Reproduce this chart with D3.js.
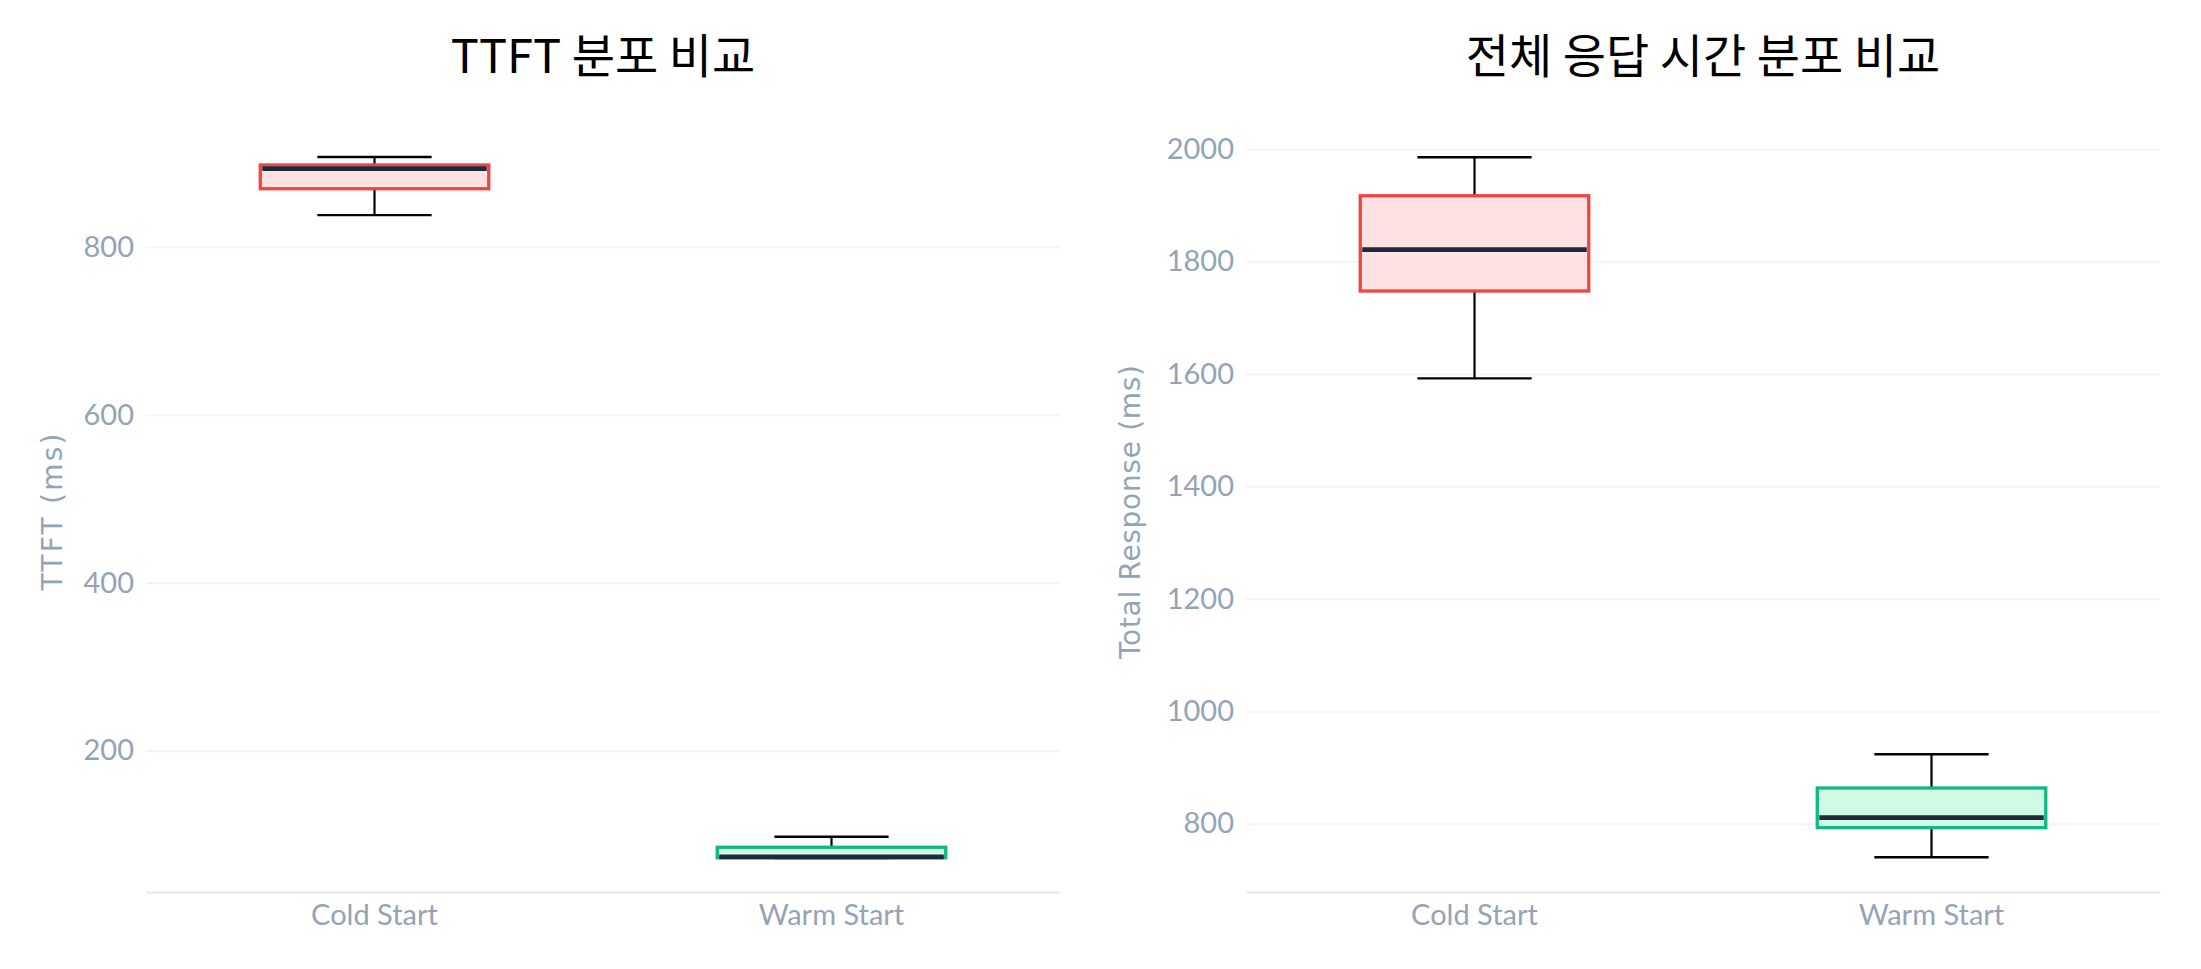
<!DOCTYPE html>
<html>
<head>
<meta charset="utf-8">
<script src="https://cdn.jsdelivr.net/npm/d3@7"></script>
<style>
  body { margin: 0; background: white; }
</style>
</head>
<body>
<div id="chart"></div>
<script>
// Chart data

var categories = ["Cold Start", "Warm Start"]

// [min, q1, median, q3, max]
var ttft_stats = [
    [838, 869.4, 893.3, 897.7, 907.2],
    [72, 72.5, 73.5, 85, 97.5]
]
var total_stats = [
    [1592, 1747.4, 1821, 1916.8, 1985.2],
    [740.2, 792.9, 810.7, 863.5, 923.4]
]

var ttft_ticks = [200, 400, 600, 800]
var total_ticks = [800, 1000, 1200, 1400, 1600, 1800, 2000]

var titles = ["TTFT 분포 비교", "전체 응답 시간 분포 비교"]
var y_titles = ["TTFT (ms)", "Total Response (ms)"]

var box_fill = ["#fee2e2", "#d1fae5"]
var box_line = ["#ef4444", "#10b981"]

var width = 2201
var height = 969
var plot_top = 123
var plot_bottom = 892
var plot_width = 914

var svg = d3.select("#chart")
    .append("svg")
    .attr("width", width)
    .attr("height", height)
    .style("background-color", "white")

// One panel per subplot

function drawPanel(left, stats, ticks, domain, title, y_title, y_title_x, y_title_len) {

    var y_scale = d3.scaleLinear()
        .domain(domain)
        .range([plot_bottom, plot_top])

    var x_scale = d3.scaleBand()
        .domain(categories)
        .range([left, left + plot_width])

    var g = svg.append("g")

    // gridlines + tick labels
    var yAxis = d3.axisLeft(y_scale)
        .tickValues(ticks)
        .tickFormat(d3.format("d"))
        .tickSize(-plot_width)
        .tickPadding(12)

    var ya = g.append("g")
        .attr("class", "y axis")
        .attr("transform", "translate(" + left + ",0)")
        .call(yAxis)
    ya.select(".domain").remove()
    ya.selectAll(".tick line")
        .attr("stroke", "#f1f5f9")
        .attr("stroke-width", 2)
    ya.selectAll(".tick text")
        .attr("fill", "#94a3b8")
        .style("font-family", "Lato, 'Noto Sans', sans-serif")
        .style("font-size", "29px")

    // bottom axis line + category labels
    var xAxis = d3.axisBottom(x_scale)
        .tickSize(0)
        .tickPadding(12)

    var xa = g.append("g")
        .attr("class", "x axis")
        .attr("transform", "translate(0," + plot_bottom + ")")
        .call(xAxis)
    xa.select(".domain")
        .attr("stroke", "#e2e8f0")
        .attr("stroke-width", 2)
    xa.selectAll(".tick text")
        .attr("fill", "#94a3b8")
        .attr("dy", "0.71em")
        .style("font-family", "Lato, 'Noto Sans', sans-serif")
        .style("font-size", "29px")

    // boxes
    var box_w = x_scale.bandwidth() * 0.5
    var cap_w = box_w * 0.5

    var boxes = g.append("g")
        .selectAll("g")
        .data(stats)
        .enter()
        .append("g")
        .attr("transform", function(d, i) {
            return "translate(" + (x_scale(categories[i]) + x_scale.bandwidth() / 2) + ",0)"
        })

    boxes.append("line")
        .attr("x1", 0).attr("x2", 0)
        .attr("y1", function(d) { return y_scale(d[4]) })
        .attr("y2", function(d) { return y_scale(d[0]) })
        .attr("stroke", "#000")
        .attr("stroke-width", 2.2)

    boxes.selectAll(".cap")
        .data(function(d) { return [d[0], d[4]] })
        .enter()
        .append("line")
        .attr("class", "cap")
        .attr("x1", -cap_w / 2).attr("x2", cap_w / 2)
        .attr("y1", function(v) { return y_scale(v) })
        .attr("y2", function(v) { return y_scale(v) })
        .attr("stroke", "#000")
        .attr("stroke-width", 2.4)

    boxes.append("rect")
        .attr("x", -box_w / 2)
        .attr("width", box_w)
        .attr("y", function(d) { return y_scale(d[3]) })
        .attr("height", function(d) { return y_scale(d[1]) - y_scale(d[3]) })
        .attr("fill", function(d, i) { return box_fill[i] })
        .attr("stroke", function(d, i) { return box_line[i] })
        .attr("stroke-width", 3.3)

    boxes.append("line")
        .attr("x1", -box_w / 2 + 2).attr("x2", box_w / 2 - 2)
        .attr("y1", function(d) { return y_scale(d[2]) })
        .attr("y2", function(d) { return y_scale(d[2]) })
        .attr("stroke", "#1e293b")
        .attr("stroke-width", 4.8)

    // titles
    g.append("text")
        .attr("x", left + plot_width / 2)
        .attr("y", 73)
        .attr("text-anchor", "middle")
        .attr("fill", "#000")
        .style("font-family", "'Noto Sans CJK KR', 'Noto Sans', sans-serif")
        .style("font-size", "47px")
        .text(title)

    g.append("text")
        .attr("transform", "translate(" + y_title_x + "," + 512 + ") rotate(-90)")
        .attr("text-anchor", "middle")
        .attr("fill", "#94a3b8")
        .attr("textLength", y_title_len)
        .attr("lengthAdjust", "spacing")
        .style("font-family", "'DejaVu Sans', sans-serif")
        .style("font-size", "28px")
        .text(y_title)
}

drawPanel(146, ttft_stats, ttft_ticks, [31.7, 947.7], titles[0], y_titles[0], 62, 157)
drawPanel(1246, total_stats, total_ticks, [678.5, 2046.2], titles[1], y_titles[1], 1140, 294)
</script>
</body>
</html>
